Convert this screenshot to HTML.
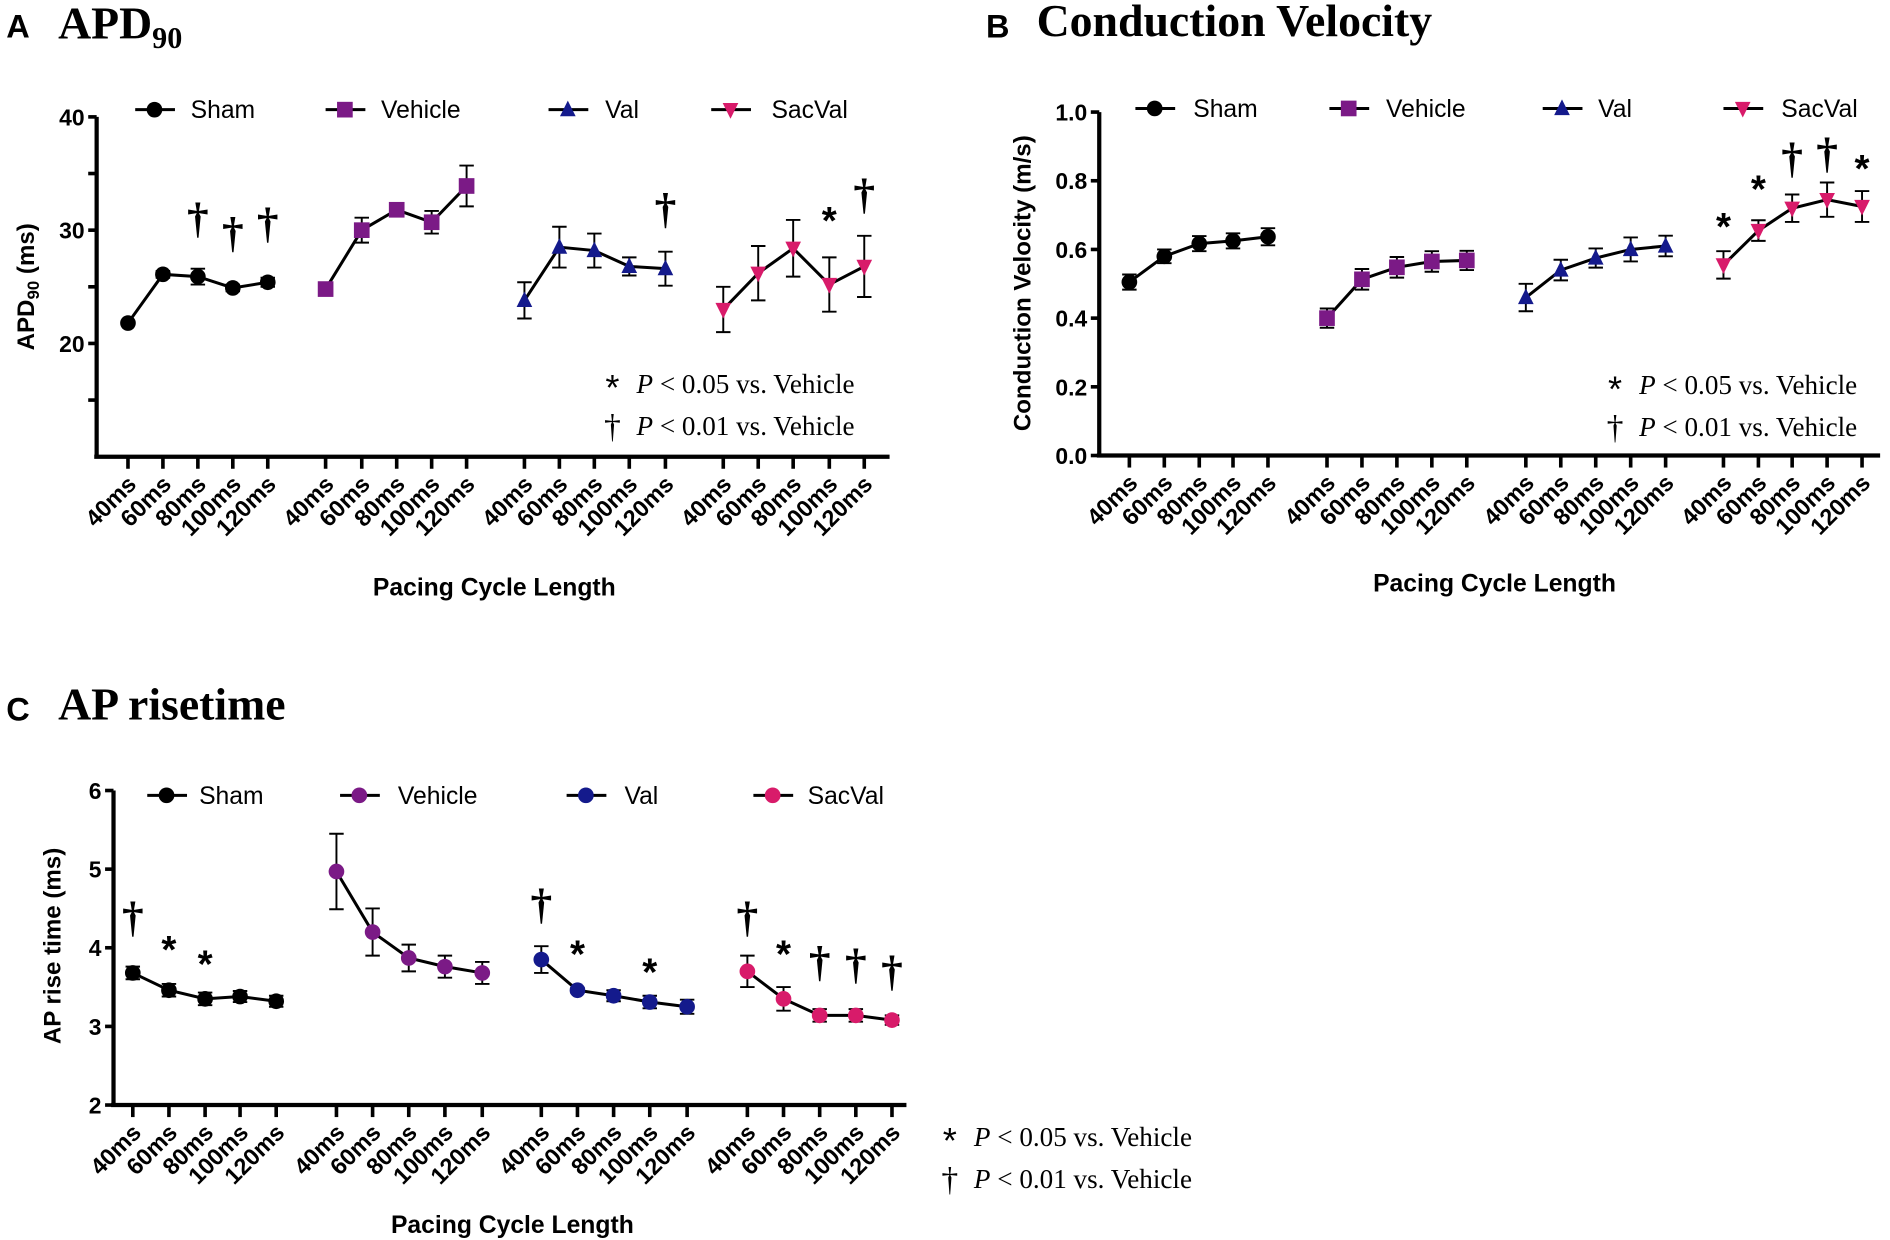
<!DOCTYPE html>
<html><head><meta charset="utf-8"><style>html,body{margin:0;padding:0;background:#fff}svg{display:block}</style></head>
<body>
<svg id="s" xmlns="http://www.w3.org/2000/svg" width="1890" height="1240" viewBox="0 0 1568 1029" font-family="Liberation Sans, sans-serif"></svg>
<script>
const S=document.getElementById('s');let h='';
const cols={sham:'#000',veh:'#7b1a86',val:'#141a8c',sac:'#d81b6a'};
function marker(k,x,y,c,r){r=r||6.5;
 if(k=='c')return `<circle cx="${x}" cy="${y}" r="${r}" fill="${c}"/>`;
 if(k=='s')return `<rect x="${x-r}" y="${y-r}" width="${2*r}" height="${2*r}" fill="${c}"/>`;
 if(k=='t')return `<polygon points="${x},${y-r-1} ${x-r},${y+r-1} ${x+r},${y+r-1}" fill="${c}"/>`;
 if(k=='v')return `<polygon points="${x},${y+r+1} ${x-r},${y-r+1} ${x+r},${y-r+1}" fill="${c}"/>`;}
function panel(p){
 const Y=v=>p.y0+(p.vmax-v)*p.k;
 h+=`<line x1="${p.ax}" y1="${p.ytop}" x2="${p.ax}" y2="${p.ybot}" stroke="#000" stroke-width="3.5"/>`;
 h+=`<line x1="${p.ax-2}" y1="${p.ybot}" x2="${p.axEnd}" y2="${p.ybot}" stroke="#000" stroke-width="3.5"/>`;
 p.yt.forEach(t=>{const y=Y(t[0]);h+=`<line x1="${p.ax-7}" y1="${y}" x2="${p.ax}" y2="${y}" stroke="#000" stroke-width="3"/>`;
  if(t[1])h+=`<text x="${p.ax-10}" y="${y+7}" font-size="19" font-weight="bold" text-anchor="end">${t[1]}</text>`;});
 const labs=['40ms','60ms','80ms','100ms','120ms'];
 p.g.forEach((g,gi)=>{let pts=[];
  g.x.forEach((x,i)=>{h+=`<line x1="${x}" y1="${p.ybot}" x2="${x}" y2="${p.ybot+10}" stroke="#000" stroke-width="3"/>`;
   h+=`<text transform="translate(${x+8},${p.ybot+24}) rotate(-45)" font-size="19.5" font-weight="bold" text-anchor="end">${labs[i]}</text>`;
   pts.push(x+','+Y(g.v[i]));});
  h+=`<polyline points="${pts.join(' ')}" fill="none" stroke="#000" stroke-width="2.5"/>`;
  g.x.forEach((x,i)=>{const e=g.e[i];if(e>0){const a=Y(g.v[i]+e),b=Y(g.v[i]-e);
   h+=`<path d="M${x},${a}V${b}M${x-6},${a}H${x+6}M${x-6},${b}H${x+6}" stroke="#000" stroke-width="1.6" fill="none"/>`;}
   h+=marker(g.m,x,Y(g.v[i]),g.c);});
  (g.sig||[]).forEach(s=>{const x=g.x[s[0]];
   if(s[1]=='*')h+=`<text x="${x}" y="${s[2]+16}" font-size="32" font-weight="bold" text-anchor="middle">*</text>`;
   else h+=`<text x="${x}" y="${s[2]+15}" font-size="36" font-weight="bold" font-family="Liberation Serif, serif" text-anchor="middle">†</text>`;});
 });
 p.leg.forEach(l=>{h+=`<line x1="${l[0]}" y1="${p.ly}" x2="${l[0]+33}" y2="${p.ly}" stroke="#000" stroke-width="2.5"/>`+marker(l[2],l[0]+16,p.ly,l[3]);
  h+=`<text x="${l[1]}" y="${p.ly+7}" font-size="20.5">${l[4]}</text>`;});
 h+=`<text x="${p.ann[0]}" y="${p.ann[1]+14}" font-size="30" text-anchor="middle">*</text><text x="${p.ann[0]+20}" y="${p.ann[1]+8}" font-size="22.5" font-family="Liberation Serif, serif"><tspan font-style="italic">P</tspan> &lt; 0.05 vs. Vehicle</text>`;
 h+=`<text x="${p.ann[0]}" y="${p.ann[1]+45}" font-size="28" font-family="Liberation Serif, serif" text-anchor="middle">†</text><text x="${p.ann[0]+20}" y="${p.ann[1]+43}" font-size="22.5" font-family="Liberation Serif, serif"><tspan font-style="italic">P</tspan> &lt; 0.01 vs. Vehicle</text>`;
 h+=`<text x="${p.xl[0]}" y="${p.xl[1]}" font-size="20.5" font-weight="bold" text-anchor="middle">Pacing Cycle Length</text>`;
 h+=`<text transform="translate(${p.yl[0]},${p.yl[1]}) rotate(-90)" font-size="20" font-weight="bold" text-anchor="middle">${p.yl[2]}</text>`;
}
panel({ax:80,ytop:97,ybot:379,axEnd:738,y0:97,vmax:40,k:9.4,
 yt:[[40,'40'],[35,''],[30,'30'],[25,''],[20,'20'],[15,'']],
 g:[{x:[106,135,164,193,222],v:[21.8,26.1,25.9,24.9,25.4],e:[0,0.3,0.7,0.3,0.4],m:'c',c:cols.sham,sig:[[2,'d',178],[3,'d',190],[4,'d',182]]},
 {x:[270,300,329,358,387],v:[24.8,30,31.8,30.7,33.9],e:[0,1.1,0.5,1,1.8],m:'s',c:cols.veh},
 {x:[435,464,493,522,552],v:[23.8,28.5,28.2,26.8,26.6],e:[1.6,1.8,1.5,0.8,1.5],m:'t',c:cols.val,sig:[[4,'d',170]]},
 {x:[600,629,658,688,717],v:[23,26.2,28.4,25.2,26.8],e:[2,2.4,2.5,2.4,2.7],m:'v',c:cols.sac,sig:[[3,'*',178],[4,'d',158]]}],
 ly:91,leg:[[112,158,'c',cols.sham,'Sham'],[270,316,'s',cols.veh,'Vehicle'],[455,502,'t',cols.val,'Val'],[590,640,'v',cols.sac,'SacVal']],
 ann:[508,318],xl:[410,494],yl:[28,238,'APD<tspan font-size="14" dy="4">90</tspan><tspan dy="-4"> (ms)</tspan>']});
panel({ax:912,ytop:93,ybot:378,axEnd:1560,y0:93,vmax:1,k:285,
 yt:[[1,'1.0'],[0.8,'0.8'],[0.6,'0.6'],[0.4,'0.4'],[0.2,'0.2'],[0,'0.0']],
 g:[{x:[937,966,995,1023,1052],v:[.505,.58,.617,.625,.637],e:[.022,.02,.022,.022,.025],m:'c',c:cols.sham},
 {x:[1101,1130,1159,1188,1217],v:[.40,.513,.548,.565,.568],e:[.028,.03,.03,.03,.028],m:'s',c:cols.veh},
 {x:[1266,1295,1324,1353,1382],v:[.46,.54,.575,.60,.61],e:[.04,.03,.028,.035,.03],m:'t',c:cols.val},
 {x:[1430,1459,1487,1516,1545],v:[.555,.655,.72,.745,.725],e:[.04,.03,.04,.05,.045],m:'v',c:cols.sac,sig:[[0,'*',183],[1,'*',152],[2,'d',128],[3,'d',124],[4,'*',135]]}],
 ly:90,leg:[[942,990,'c',cols.sham,'Sham'],[1103,1150,'s',cols.veh,'Vehicle'],[1280,1326,'t',cols.val,'Val'],[1430,1478,'v',cols.sac,'SacVal']],
 ann:[1340,319],xl:[1240,491],yl:[855,235,'Conduction Velocity (m/s)']});
panel({ax:94,ytop:656,ybot:917,axEnd:752,y0:656,vmax:6,k:65.25,
 yt:[[6,'6'],[5,'5'],[4,'4'],[3,'3'],[2,'2']],
 g:[{x:[110,140,170,199,229],v:[3.68,3.46,3.35,3.38,3.32],e:[.08,.08,.08,.07,.07],m:'c',c:cols.sham,sig:[[0,'d',758],[1,'*',783],[2,'*',795]]},
 {x:[279,309,339,369,400],v:[4.97,4.2,3.87,3.76,3.68],e:[.48,.3,.17,.14,.14],m:'c',c:cols.veh},
 {x:[449,479,509,539,570],v:[3.85,3.46,3.39,3.31,3.25],e:[.17,.03,.07,.08,.09],m:'c',c:cols.val,sig:[[0,'d',747],[1,'*',787],[3,'*',802]]},
 {x:[620,650,680,710,740],v:[3.7,3.35,3.14,3.14,3.08],e:[.2,.15,.08,.08,.06],m:'c',c:cols.sac,sig:[[0,'d',758],[1,'*',787],[2,'d',795],[3,'d',797],[4,'d',803]]}],
 ly:660,leg:[[122,165,'c',cols.sham,'Sham'],[282,330,'c',cols.veh,'Vehicle'],[470,518,'c',cols.val,'Val'],[625,670,'c',cols.sac,'SacVal']],
 ann:[788,943],xl:[425,1023],yl:[50,785,'AP rise time (ms)']});
h+=`<text x="5" y="31" font-size="27" font-weight="bold">A</text><text x="48" y="32" font-size="38" font-weight="bold" font-family="Liberation Serif, serif">APD<tspan font-size="25" dy="8">90</tspan></text>`;
h+=`<text x="818" y="31" font-size="27" font-weight="bold">B</text><text x="860" y="30" font-size="38" font-weight="bold" font-family="Liberation Serif, serif">Conduction Velocity</text>`;
h+=`<text x="5" y="598" font-size="27" font-weight="bold">C</text><text x="48" y="597" font-size="38" font-weight="bold" font-family="Liberation Serif, serif">AP risetime</text>`;
S.innerHTML=h;
</script>
</body></html>
